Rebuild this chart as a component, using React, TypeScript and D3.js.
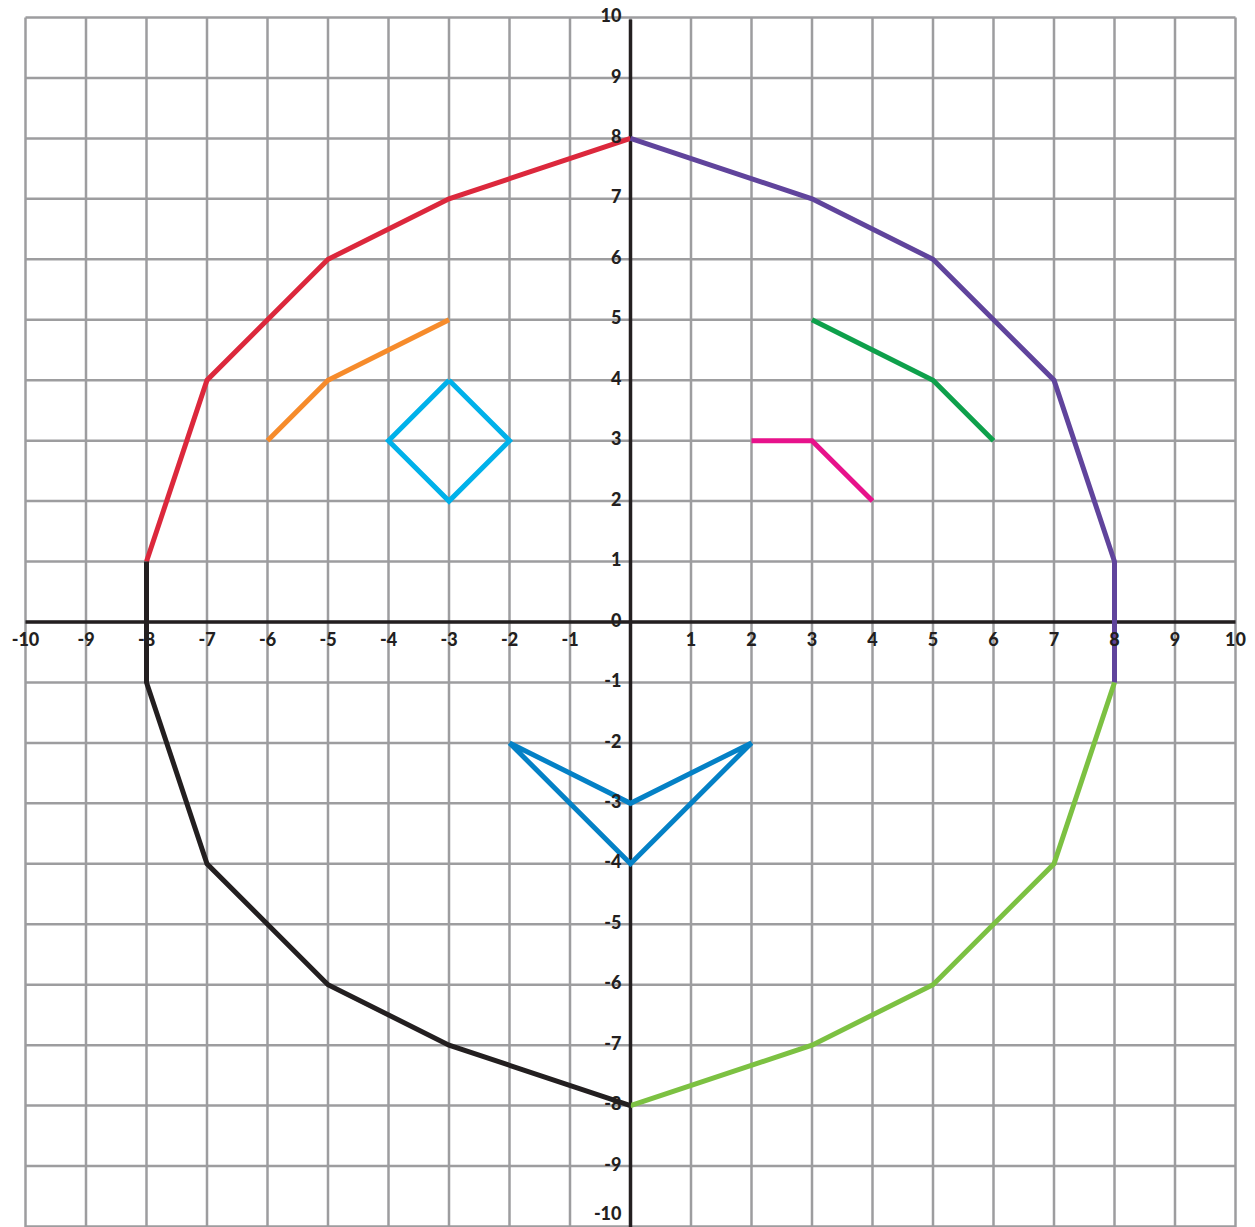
import React from 'react';
import * as d3 from 'd3';

// tick values for both axes
const ticks = d3.range(-10, 11);

// outline of the face, split into coloured pieces
const redTopLeft: [number, number][] = [[-8, 1], [-7, 4], [-5, 6], [-3, 7], [0, 8]];
const purpleTopRight: [number, number][] = [[0, 8], [3, 7], [5, 6], [7, 4], [8, 1], [8, -1]];
const greenBottomRight: [number, number][] = [[8, -1], [7, -4], [5, -6], [3, -7], [0, -8]];
const blackBottomLeft: [number, number][] = [[0, -8], [-3, -7], [-5, -6], [-7, -4], [-8, -1], [-8, 1]];

// eyebrows and eyes
const orangeBrow: [number, number][] = [[-6, 3], [-5, 4], [-3, 5]];
const cyanEye: [number, number][] = [[-3, 4], [-2, 3], [-3, 2], [-4, 3], [-3, 4]];
const greenBrow: [number, number][] = [[3, 5], [5, 4], [6, 3]];
const pinkEye: [number, number][] = [[2, 3], [3, 3], [4, 2]];

// mouth / beak
const blueBeak: [number, number][] = [[-2, -2], [0, -3], [2, -2], [0, -4], [-2, -2]];

const shapes = [
  { pts: redTopLeft, color: '#dc283c' },
  { pts: purpleTopRight, color: '#60449c' },
  { pts: greenBottomRight, color: '#7cc142' },
  { pts: blackBottomLeft, color: '#231f20' },
  { pts: orangeBrow, color: '#f68b2b' },
  { pts: cyanEye, color: '#00b1ea' },
  { pts: greenBrow, color: '#0ea04b' },
  { pts: pinkEye, color: '#e7128b' },
  { pts: blueBeak, color: '#0481c6' },
];

const App = () => {
  const width = 1255;
  const height = 1227;

  const x = d3.scaleLinear().domain([-10, 10]).range([25.5, 1235.5]);
  const y = d3.scaleLinear().domain([10, -10]).range([17.5, 1226.5]);

  const line = d3.line<[number, number]>()
    .x(d => x(d[0]))
    .y(d => y(d[1]))
    .curve(d3.curveLinear);

  const font = 'Lato, "Open Sans", sans-serif';

  return (
    <svg width={width} height={height} style={{ position: 'absolute', left: 0, top: 0, background: '#fff' }}>
      <g stroke="#9d9d9f" strokeWidth={2.5}>
        {ticks.map(t => (
          <line key={'v' + t} x1={x(t)} x2={x(t)} y1={y(10)} y2={height} />
        ))}
        {ticks.map(t => (
          <line key={'h' + t} x1={x(-10)} x2={x(10)} y1={y(t)} y2={y(t)} />
        ))}
      </g>

      <line x1={x(-10)} x2={x(10)} y1={y(0)} y2={y(0)} stroke="#231f20" strokeWidth={3.5} />
      <line x1={x(0)} x2={x(0)} y1={y(10) + 2} y2={height} stroke="#231f20" strokeWidth={3.5} />

      {shapes.map((s, i) => (
        <path key={i} d={line(s.pts) || ''} fill="none" stroke={s.color} strokeWidth={5}
          strokeLinejoin="miter" strokeLinecap="butt" />
      ))}

      <g fontFamily={font} fontWeight={900} fontSize={18} fill="#231f20">
        {ticks.filter(t => t !== 0).map(t => (
          <text key={'xl' + t} x={x(t)} y={y(0) + 19} textAnchor="middle" dominantBaseline="middle">{t}</text>
        ))}
        {ticks.map(t => (
          <text key={'yl' + t} x={x(0) - 9} y={t === -10 ? y(t) - 11 : y(t)} textAnchor="end" dominantBaseline="middle">{t}</text>
        ))}
      </g>
    </svg>
  );
};

export default App;
